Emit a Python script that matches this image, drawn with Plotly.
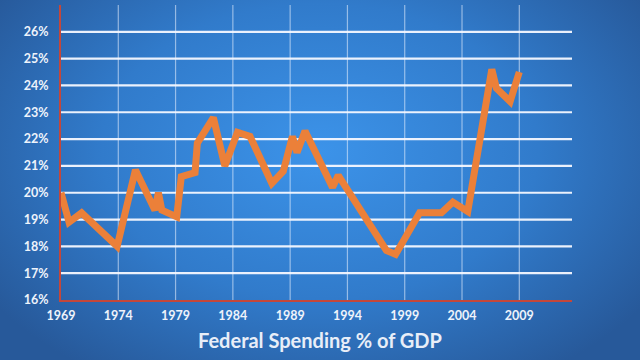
import base64
import plotly.graph_objects as go

# Data (fractional years reflect vertex positions)
years = [1969.0, 1969.7, 1970.8, 1973.9, 1975.5, 1977.2, 1977.5, 1977.8, 1979.1,
         1979.5, 1980.7, 1980.9, 1982.3, 1983.3, 1984.4, 1985.5, 1987.4, 1988.4,
         1989.2, 1989.6, 1990.3, 1992.7, 1993.2, 1997.4, 1998.2, 2000.3, 2002.2,
         2003.2, 2004.5, 2006.6, 2007.0, 2008.2, 2009.0]
spending = [20.0, 18.9, 19.25, 18.0, 20.85, 19.35, 20.0, 19.35, 19.1,
            20.6, 20.75, 21.85, 22.8, 21.0, 22.25, 22.1, 20.35, 20.8,
            22.1, 21.5, 22.3, 20.2, 20.65, 17.85, 17.7, 19.25, 19.25,
            19.65, 19.3, 24.6, 23.9, 23.4, 24.5]

x_ticks = [1969, 1974, 1979, 1984, 1989, 1994, 1999, 2004, 2009]
y_ticks = [16, 17, 18, 19, 20, 21, 22, 23, 24, 25, 26]
y_labels = [f"{v}%" for v in y_ticks]
title_text = "Federal Spending % of GDP"

W, H = 640, 360
L, R, T, B = 61, 68, 5, 60
pw, ph = W - L - R, H - T - B

svg = f'''<svg xmlns="http://www.w3.org/2000/svg" width="{W}" height="{H}" viewBox="0 0 {W} {H}" preserveAspectRatio="none">
<defs><radialGradient id="g" cx="0.5" cy="0.42" r="0.62" gradientTransform="translate(0.5 0.42) scale(1 1.2) translate(-0.5 -0.42)">
<stop offset="0" stop-color="#3c93e9"/><stop offset="0.55" stop-color="#317bcb"/><stop offset="1" stop-color="#27599a"/>
</radialGradient></defs><rect width="{W}" height="{H}" fill="url(#g)"/></svg>'''
bg_src = "data:image/svg+xml;base64," + base64.b64encode(svg.encode()).decode()

fig = go.Figure()
# vertical gridlines (only up to 2009)
for xv in x_ticks[1:]:
    fig.add_shape(type="line", x0=xv, x1=xv, y0=16, y1=27, xref="x", yref="y",
                  line=dict(color="rgba(235,242,255,0.55)", width=1.2), layer="below")
# horizontal gridlines
for yv in y_ticks[1:]:
    fig.add_shape(type="line", x0=1969, x1=2013.6, y0=yv, y1=yv, xref="x", yref="y",
                  line=dict(color="rgba(245,248,255,0.95)", width=2.2), layer="below")

fig.add_trace(go.Scatter(x=years, y=spending, mode="lines",
                         line=dict(color="#eb8039", width=7),
                         hoverinfo="skip", showlegend=False, cliponaxis=False))

font_lbl = dict(family="Lato, Open Sans, sans-serif", size=12.5, color="#eef3fb", weight="bold")
axis_red = "#c4473a"

fig.update_layout(
    width=W, height=H,
    margin=dict(l=L, r=R, t=T, b=B),
    paper_bgcolor="#2a6bb6", plot_bgcolor="rgba(0,0,0,0)",
    images=[dict(source=bg_src, xref="paper", yref="paper",
                 x=-L / pw, y=1 + T / ph, sizex=W / pw, sizey=H / ph,
                 xanchor="left", yanchor="top", sizing="stretch", layer="below")],
    xaxis=dict(range=[1969, 2013.6], tickvals=x_ticks, ticktext=[str(v) for v in x_ticks],
               showgrid=False, zeroline=False, showline=True, linecolor=axis_red, linewidth=2.2,
               ticks="outside", ticklen=3, tickcolor="rgba(0,0,0,0)", tickfont=font_lbl,
               fixedrange=True, automargin=False),
    yaxis=dict(range=[16, 27], tickvals=y_ticks, ticktext=y_labels,
               showgrid=False, zeroline=False, showline=True, linecolor=axis_red, linewidth=2.2,
               ticks="outside", ticklen=8, tickcolor="rgba(0,0,0,0)", tickfont=font_lbl,
               fixedrange=True, automargin=False),
    annotations=[dict(text=title_text, xref="paper", yref="paper",
                      x=(320 - L) / pw, y=(300 - 340) / ph, xanchor="center", yanchor="middle",
                      showarrow=False,
                      font=dict(family="Lato, Open Sans, sans-serif", size=20,
                                color="#e8eef8", weight="bold"))],
)

fig.write_html("out.html", config={"displayModeBar": False},
               post_script="document.body.style.margin='0';document.body.style.overflow='hidden';")
